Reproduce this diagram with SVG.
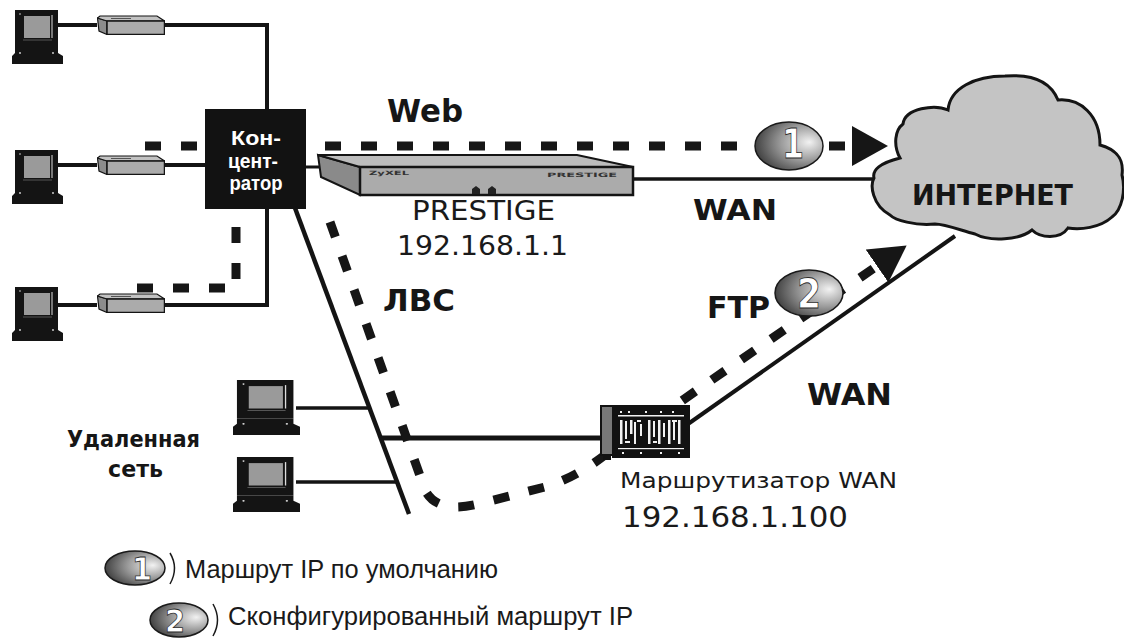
<svg xmlns="http://www.w3.org/2000/svg" xmlns:xlink="http://www.w3.org/1999/xlink" width="1124" height="640" viewBox="0 0 1124 640">
  <style>
    .wire { stroke: #141414; fill: none; stroke-linecap: butt; }
    .route { stroke: #161616; fill: none; stroke-width: 9; stroke-dasharray: 16 20; }
    .lbl { font-family: "DejaVu Sans", "Liberation Sans", sans-serif; font-weight: bold; fill: #161616; }
    .thin { font-family: "DejaVu Sans", "Liberation Sans", sans-serif; fill: #1a1a1a; }
    .leg { font-family: "Liberation Sans", "DejaVu Sans", sans-serif; fill: #1a1a1a; }
    .hubtxt { font-family: "Liberation Sans", "DejaVu Sans", sans-serif; font-weight: bold; font-size: 20px; fill: #ffffff; }
    .num { font-family: "DejaVu Sans", "Liberation Sans", sans-serif; font-weight: bold; fill: #ffffff; stroke: #2a2a2a; stroke-width: 0.8; }
    .orb { fill: url(#orbFill); stroke: #1a1a1a; stroke-width: 1.5; }
  </style>
  <defs>
    <radialGradient id="orbFill" cx="0.68" cy="0.45" r="0.8" fx="0.8" fy="0.42">
      <stop offset="0" stop-color="#f2f2f2"/>
      <stop offset="0.45" stop-color="#9c9c9c"/>
      <stop offset="1" stop-color="#262626"/>
    </radialGradient>
    <marker id="head" viewBox="0 0 36 40" refX="0" refY="20" markerWidth="36" markerHeight="40" markerUnits="userSpaceOnUse" orient="auto">
      <path d="M0 0 L36 20 L0 40 Z" fill="#161616"/>
    </marker>
    <!-- desktop workstation -->
    <symbol id="pc" viewBox="0 0 51 54" preserveAspectRatio="none">
      <rect x="3" y="0" width="43" height="38" fill="#141414"/>
      <rect x="12" y="6" width="26" height="22" fill="#9a9a9a"/>
      <line x1="40" y1="5" x2="40" y2="28" stroke="#dddddd" stroke-width="1"/>
      <line x1="11" y1="30" x2="40" y2="30" stroke="#555" stroke-width="1"/>
      <path d="M3 38 H46 V43 L51 46 V54 H0 V46 L3 43 Z" fill="#141414"/>
      <circle cx="8" cy="43" r="0.9" fill="#ddd"/>
      <circle cx="41" cy="43" r="0.9" fill="#ddd"/>
      <circle cx="8" cy="4" r="0.8" fill="#ddd"/>
    </symbol>
    <!-- desktop modem -->
    <symbol id="modem" viewBox="0 0 68 20">
      <path d="M0.5 3 L10 6 V19.5 L2 16 Z" fill="#8c8c8c" stroke="#141414" stroke-width="1.2"/>
      <path d="M0.5 3 L3 1 H60 L67.5 6 H10 Z" fill="#c2c2c2" stroke="#141414" stroke-width="1.2"/>
      <line x1="14" y1="3.5" x2="34" y2="3.5" stroke="#555" stroke-width="1"/>
      <rect x="10" y="6" width="57.5" height="13.5" fill="#ababab" stroke="#141414" stroke-width="1.5"/>
    </symbol>
  </defs>

  <rect width="1124" height="640" fill="#ffffff"/>

  <!-- cabling and traffic routes -->
  <g id="connectors">
    <!-- modem links to the hub -->
    <path class="wire" stroke-width="4" d="M58 25 H97 M165 25 H267 V110"/>
    <path class="wire" stroke-width="4" d="M58 165 H97 M165 165 H206"/>
    <path class="wire" stroke-width="4" d="M58 305 H97 M165 305 H267 V208"/>
    <!-- hub to Prestige -->
    <path class="wire" stroke-width="3" d="M305 167 H320"/>
    <!-- Prestige WAN -->
    <path class="wire" stroke-width="3.5" d="M633 179 H880"/>
    <!-- LAN segment -->
    <path class="wire" stroke-width="4.5" d="M295 208 L409 514"/>
    <path class="wire" stroke-width="3.5" d="M296 408 H369 M296 482 H397"/>
    <path class="wire" stroke-width="5" d="M380 438 H602"/>
    <!-- router WAN -->
    <path class="wire" stroke-width="4" d="M688 424 L955 236"/>
    <!-- route 1: Web -->
    <path class="route" d="M145 146 H852" marker-end="url(#head)"/>
    <path class="route" stroke-dasharray="18 16" d="M137 288 H236 V212"/>
    <!-- route 2: FTP -->
    <path class="route" stroke-dasharray="15 19" d="M330 222 L425 490 Q437 514 478 504 L545 487 Q575 478 605 455 L700 388 L877 266" marker-end="url(#head)"/>
  </g>

  <!-- local workstations -->
  <g id="pc-top"><use xlink:href="#pc" x="12" y="10" width="51" height="54"/></g>
  <g id="pc-mid"><use xlink:href="#pc" x="12" y="150" width="51" height="54"/></g>
  <g id="pc-bottom"><use xlink:href="#pc" x="12" y="287" width="51" height="54"/></g>
  <g id="modem-top"><use xlink:href="#modem" x="97" y="15" width="68" height="20"/></g>
  <g id="modem-mid"><use xlink:href="#modem" x="97" y="155" width="68" height="20"/></g>
  <g id="modem-bottom"><use xlink:href="#modem" x="97" y="293" width="68" height="20"/></g>

  <!-- hub -->
  <g id="hub">
    <rect x="205" y="109" width="101" height="100" fill="#121212"/>
    <text class="hubtxt" x="256" y="145" text-anchor="middle" textLength="50" lengthAdjust="spacingAndGlyphs">Кон-</text>
    <text class="hubtxt" x="253" y="168" text-anchor="middle" textLength="50" lengthAdjust="spacingAndGlyphs">цент-</text>
    <text class="hubtxt" x="256" y="190" text-anchor="middle" textLength="53" lengthAdjust="spacingAndGlyphs">ратор</text>
  </g>

  <!-- Prestige router -->
  <g id="prestige">
    <path d="M318 155 L360 167 V195 L321 177 Z" fill="#8a8a8a" stroke="#141414" stroke-width="2"/>
    <path d="M318 155 H577 L633 167 H360 Z" fill="#bdbdbd" stroke="#141414" stroke-width="2"/>
    <rect x="360" y="167" width="273" height="28" fill="#ababab" stroke="#141414" stroke-width="2.5"/>
    <text x="369" y="175" font-family="DejaVu Sans, sans-serif" font-size="6" font-weight="bold" fill="#333" textLength="40" lengthAdjust="spacingAndGlyphs">ZyXEL</text>
    <text x="547" y="177" font-family="DejaVu Sans, sans-serif" font-size="6" font-weight="bold" fill="#333" textLength="70" lengthAdjust="spacingAndGlyphs">PRESTIGE</text>
    <path d="M472 194 V189 L476 186 L480 189 V194 Z M488 194 V189 L492 186 L496 189 V194 Z" fill="#222"/>
    <text class="thin" x="412" y="220" font-size="26" textLength="143" lengthAdjust="spacingAndGlyphs">PRESTIGE</text>
    <text class="thin" x="397" y="255" font-size="26" textLength="171" lengthAdjust="spacingAndGlyphs">192.168.1.1</text>
  </g>

  <!-- Internet cloud -->
  <g id="internet">
    <path d="M903 124 C905 108 935 104 948 110 C950 88 975 76 1005 76 C1030 74 1050 80 1058 100 C1080 98 1100 115 1100 145 C1118 150 1124 160 1122 175 C1126 190 1122 210 1112 217 C1100 228 1080 230 1068 228 C1060 240 1040 238 1032 230 C1020 240 990 242 975 234 C960 230 945 224 935 224 C915 226 895 220 890 215 C872 205 870 185 874 178 C872 170 880 163 900 158 C893 145 895 130 903 124 Z" fill="#c4c4c4" stroke="#141414" stroke-width="3"/>
    <text class="lbl" x="912" y="205" font-size="28" textLength="161" lengthAdjust="spacingAndGlyphs">ИНТЕРНЕТ</text>
  </g>

  <!-- remote site -->
  <g id="remote-pc-1"><use xlink:href="#pc" x="233" y="380" width="67" height="55"/></g>
  <g id="remote-pc-2"><use xlink:href="#pc" x="233" y="457" width="67" height="55"/></g>

  <!-- WAN router -->
  <g id="wan-router">
    <rect x="612" y="405" width="78" height="53" fill="#121212"/>
    <rect x="601" y="406" width="12" height="49" fill="#787878" stroke="#121212" stroke-width="2"/>
    <rect x="603" y="455" width="8" height="5" fill="#121212"/>
    <g fill="#f2f2f2">
      <rect x="620" y="411" width="2" height="2"/><rect x="628" y="411" width="2" height="2"/>
      <rect x="645" y="411" width="2" height="2"/><rect x="660" y="411" width="2" height="2"/>
      <rect x="672" y="411" width="2" height="2"/>
      <rect x="618" y="415" width="66" height="1.5"/>
      <rect x="620" y="420" width="2.5" height="24"/>
      <rect x="625" y="421" width="2" height="18"/><rect x="625" y="441" width="5" height="2"/>
      <rect x="630" y="420" width="2.5" height="14"/>
      <rect x="634" y="422" width="2" height="22"/><rect x="637" y="420" width="4" height="2"/>
      <rect x="640" y="424" width="2" height="12"/>
      <rect x="648" y="420" width="2.5" height="24"/>
      <rect x="653" y="421" width="2" height="16"/><rect x="653" y="441" width="4" height="2"/>
      <rect x="658" y="420" width="2.5" height="24"/>
      <rect x="663" y="423" width="2" height="14"/>
      <rect x="668" y="420" width="2.5" height="24"/>
      <rect x="673" y="422" width="2" height="18"/><rect x="672" y="420" width="5" height="2"/>
      <rect x="678" y="420" width="2.5" height="24"/>
      <rect x="618" y="448" width="66" height="1.2"/>
      <rect x="622" y="452" width="2" height="2"/><rect x="640" y="452" width="2" height="2"/>
      <rect x="660" y="452" width="2" height="2"/><rect x="678" y="452" width="2" height="2"/>
    </g>
    <text class="thin" x="620" y="488" font-size="22" textLength="277" lengthAdjust="spacingAndGlyphs">Маршрутизатор WAN</text>
    <text class="thin" x="622" y="527" font-size="29" textLength="226" lengthAdjust="spacingAndGlyphs">192.168.1.100</text>
  </g>

  <!-- route markers -->
  <g id="route-1-mark">
    <ellipse class="orb" cx="789" cy="146" rx="34" ry="24"/>
    <text class="num" x="793" y="158" font-size="40" text-anchor="middle" textLength="22" lengthAdjust="spacingAndGlyphs">1</text>
  </g>
  <g id="route-2-mark">
    <ellipse class="orb" cx="809" cy="293" rx="34" ry="23"/>
    <text class="num" x="809" y="308" font-size="40" text-anchor="middle" textLength="24" lengthAdjust="spacingAndGlyphs">2</text>
  </g>

  <!-- labels -->
  <g id="labels">
    <text class="lbl" x="387" y="122" font-size="32" textLength="76" lengthAdjust="spacingAndGlyphs">Web</text>
    <text class="lbl" x="693" y="220" font-size="28" textLength="84" lengthAdjust="spacingAndGlyphs">WAN</text>
    <text class="lbl" x="383" y="311" font-size="30" textLength="72" lengthAdjust="spacingAndGlyphs">ЛВС</text>
    <text class="lbl" x="707" y="318" font-size="30" textLength="63" lengthAdjust="spacingAndGlyphs">FTP</text>
    <text class="lbl" x="807" y="405" font-size="30" textLength="85" lengthAdjust="spacingAndGlyphs">WAN</text>
    <text class="lbl" x="67" y="447" font-size="23" textLength="133" lengthAdjust="spacingAndGlyphs">Удаленная</text>
    <text class="lbl" x="108" y="477" font-size="23" textLength="55" lengthAdjust="spacingAndGlyphs">сеть</text>
  </g>

  <!-- legend -->
  <g id="legend-1">
    <ellipse class="orb" cx="135" cy="568" rx="30" ry="17"/>
    <path d="M170 553 Q179 568 170 584" fill="none" stroke="#1a1a1a" stroke-width="1.5"/>
    <text class="num" x="142" y="580" font-size="32" text-anchor="middle" textLength="20" lengthAdjust="spacingAndGlyphs">1</text>
    <text class="leg" x="185" y="578" font-size="25" textLength="313" lengthAdjust="spacingAndGlyphs">Маршрут IP по умолчанию</text>
  </g>
  <g id="legend-2">
    <ellipse class="orb" cx="179" cy="620" rx="29" ry="17"/>
    <path d="M213 604 Q222 620 213 636" fill="none" stroke="#1a1a1a" stroke-width="1.5"/>
    <text class="num" x="175" y="632" font-size="32" text-anchor="middle" textLength="20" lengthAdjust="spacingAndGlyphs">2</text>
    <text class="leg" x="228" y="625" font-size="25" textLength="405" lengthAdjust="spacingAndGlyphs">Сконфигурированный маршрут IP</text>
  </g>
</svg>
